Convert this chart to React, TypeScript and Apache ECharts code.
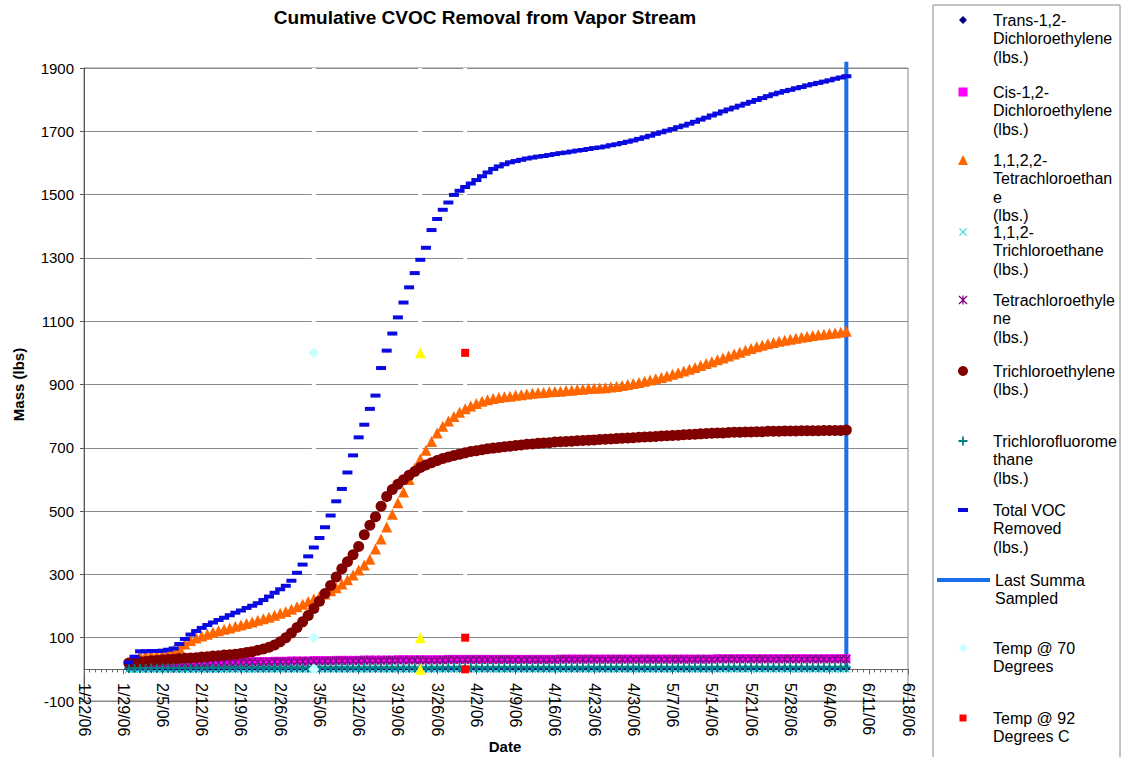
import React, { useEffect, useRef } from "react";
import * as echarts from "echarts";

// ---------- data ----------
const firstSampleDate = "2006-01-30"; // daily readings start
const axisStartDate = "2006-01-22";
const axisEndDate = "2006-06-18";

const totalVOC = [
  22, 40, 57, 57, 58, 58, 59, 62, 66, 80,
  96, 110, 121, 131, 140, 148, 156, 163, 171, 179,
  186, 194, 201, 209, 219, 230, 242, 253, 264, 280,
  305, 331, 357, 385, 415, 449, 486, 531, 570, 622,
  676, 733, 773, 823, 865, 952, 1007, 1061, 1112, 1159,
  1207, 1252, 1294, 1332, 1388, 1423, 1452, 1475, 1499, 1512,
  1524, 1535, 1546, 1558, 1570, 1581, 1589, 1596, 1602, 1606,
  1610, 1614, 1617, 1620, 1622, 1625, 1628, 1631, 1633, 1636,
  1639, 1641, 1644, 1647, 1649, 1652, 1656, 1659, 1663, 1667,
  1671, 1676, 1681, 1686, 1692, 1697, 1702, 1707, 1713, 1718,
  1724, 1730, 1737, 1743, 1750, 1756, 1763, 1769, 1775, 1781,
  1787, 1793, 1799, 1805, 1811, 1817, 1822, 1827, 1831, 1836,
  1840, 1845, 1849, 1853, 1857, 1861, 1866, 1870, 1874,
];

const tetrachloroethane = [
  null, null, 42, 44, 45, 46, 47, 52, 60, 68,
  80, 91, 99, 105, 111, 117, 122, 127, 131, 136,
  140, 145, 150, 155, 160, 165, 171, 177, 183, 190,
  198, 206, 214, 222, 230, 238, 248, 258, 270, 283,
  298, 314, 330, 348, 380, 412, 450, 490, 526, 560,
  600, 635, 665, 692, 720, 747, 768, 785, 799, 812,
  823, 832, 840, 847, 852, 856, 859, 861, 863, 866,
  868, 870, 872, 874, 875, 877, 878, 879, 881, 882,
  884, 885, 887, 888, 889, 890, 892, 894, 897, 900,
  903, 906, 910, 914, 918, 922, 927, 932, 937, 943,
  948, 954, 960, 966, 972, 978, 984, 990, 996, 1002,
  1008, 1014, 1019, 1024, 1029, 1033, 1037, 1040, 1043, 1046,
  1049, 1052, 1055, 1057, 1059, 1061, 1063, 1065, 1068,
];

const trichloroethylene = [
  20, 22, 24, 25, 27, 28, 30, 31, 32, 34,
  35, 36, 37, 39, 40, 42, 43, 45, 46, 48,
  50, 53, 56, 60, 64, 70, 77, 87, 100, 115,
  132, 150, 170, 192, 215, 240, 265, 292, 318, 340,
  362, 388, 425, 455, 482, 515, 546, 568, 585, 599,
  613, 625, 638, 646, 653, 660, 666, 671, 676, 680,
  684, 688, 691, 694, 697, 699, 701, 703, 705, 707,
  709, 711, 712, 714, 715, 716, 718, 719, 720, 721,
  722, 723, 724, 725, 726, 727, 728, 729, 730, 731,
  732, 733, 734, 735, 736, 737, 738, 739, 740, 741,
  742, 743, 744, 745, 746, 747, 747, 748, 749, 749,
  750, 750, 751, 751, 752, 752, 752, 753, 753, 753,
  754, 754, 754, 754, 755, 755, 755, 755, 756,
];

const tetrachloroethylene = [
  14, 15, 15, 16, 16, 17, 17, 18, 18, 19,
  19, 19, 20, 20, 20, 21, 21, 21, 22, 22,
  22, 22, 23, 23, 23, 23, 24, 24, 24, 25,
  25, 25, 25, 26, 26, 26, 26, 27, 27, 27,
  27, 27, 28, 28, 28, 28, 28, 28, 29, 29,
  29, 29, 29, 29, 29, 29, 29, 30, 30, 30,
  30, 30, 30, 30, 30, 30, 30, 30, 30, 30,
  30, 30, 30, 30, 30, 30, 30, 31, 31, 31,
  31, 31, 31, 31, 31, 31, 31, 31, 31, 31,
  31, 31, 31, 31, 31, 31, 31, 31, 31, 31,
  31, 31, 31, 31, 31, 32, 32, 32, 32, 32,
  32, 32, 32, 32, 32, 32, 32, 32, 32, 32,
  32, 32, 32, 32, 32, 32, 32, 32, 32,
];

const cisDCE = [
  17, 18, 18, 19, 19, 20, 20, 21, 21, 22,
  22, 22, 23, 23, 23, 24, 24, 24, 25, 25,
  25, 25, 26, 26, 26, 26, 27, 27, 27, 28,
  28, 28, 28, 29, 29, 29, 29, 30, 30, 30,
  30, 30, 31, 31, 31, 31, 31, 31, 32, 32,
  32, 32, 32, 32, 32, 32, 32, 33, 33, 33,
  33, 33, 33, 33, 33, 33, 33, 33, 33, 33,
  33, 33, 33, 33, 33, 33, 33, 34, 34, 34,
  34, 34, 34, 34, 34, 34, 34, 34, 34, 34,
  34, 34, 34, 34, 34, 34, 34, 34, 34, 34,
  34, 34, 34, 34, 34, 35, 35, 35, 35, 35,
  35, 35, 35, 35, 35, 35, 35, 35, 35, 35,
  35, 35, 35, 35, 35, 35, 35, 35, 35,
];

const transDCE = [
  1, 1, 1, 1, 1, 1, 1, 1, 1, 1,
  1, 1, 1, 1, 1, 1, 1, 2, 2, 2,
  2, 2, 2, 2, 2, 2, 2, 2, 2, 2,
  2, 2, 2, 2, 2, 2, 2, 2, 2, 2,
  2, 2, 2, 2, 2, 2, 2, 2, 2, 2,
  2, 2, 2, 2, 2, 2, 2, 2, 2, 2,
  2, 2, 2, 2, 2, 2, 2, 2, 2, 2,
  2, 2, 2, 2, 2, 2, 2, 2, 2, 2,
  2, 2, 2, 2, 2, 2, 2, 2, 2, 2,
  2, 2, 2, 2, 2, 2, 2, 2, 2, 2,
  2, 2, 2, 2, 2, 3, 3, 3, 3, 3,
  3, 3, 3, 3, 3, 3, 3, 3, 3, 3,
  3, 3, 3, 3, 3, 3, 3, 3, 3,
];

const trichloroethane = [
  0, 0, 0, 0, 0, 0, 0, 0, 0, 0,
  0, 0, 0, 0, 0, 0, 0, 0, 0, 0,
  0, 0, 0, 0, 0, 1, 1, 1, 1, 1,
  1, 1, 1, 1, 1, 1, 1, 1, 1, 1,
  1, 1, 1, 1, 1, 1, 1, 1, 1, 1,
  1, 1, 1, 1, 1, 1, 1, 1, 1, 1,
  1, 1, 1, 1, 1, 1, 1, 1, 1, 1,
  1, 1, 1, 1, 1, 1, 1, 1, 1, 1,
  1, 1, 1, 1, 1, 1, 1, 1, 1, 1,
  1, 1, 1, 1, 1, 1, 1, 1, 1, 1,
  1, 1, 1, 1, 1, 1, 1, 1, 1, 1,
  1, 1, 1, 1, 1, 1, 1, 1, 1, 1,
  1, 1, 1, 1, 1, 1, 1, 1, 1,
];

const trichlorofluoromethane = [
  3, 3, 3, 3, 4, 4, 4, 4, 4, 4,
  4, 4, 4, 5, 5, 5, 5, 5, 5, 5,
  5, 5, 5, 5, 5, 5, 5, 5, 5, 5,
  5, 5, 5, 5, 5, 5, 5, 5, 5, 5,
  5, 5, 5, 5, 5, 5, 5, 5, 5, 5,
  5, 5, 5, 5, 5, 5, 6, 6, 6, 6,
  6, 6, 6, 6, 6, 6, 6, 6, 6, 6,
  6, 6, 6, 6, 6, 6, 6, 6, 6, 6,
  6, 6, 6, 6, 6, 6, 6, 6, 6, 6,
  6, 6, 6, 6, 6, 6, 6, 6, 6, 6,
  6, 6, 6, 6, 6, 6, 6, 6, 6, 6,
  6, 6, 6, 6, 6, 6, 6, 6, 6, 6,
  6, 6, 6, 6, 6, 6, 6, 6, 6,
];

const lastSummaDate = "2006-06-07";
const lastSummaValues = [0, 1920];

const temp70Date = "2006-03-04";
const temp70Values = [0, 100, 1000];
const tempYellowDate = "2006-03-23";
const tempYellowValues = [0, 100, 1000];
const temp92Date = "2006-03-31";
const temp92Values = [0, 100, 1000];

const yMin = -100;
const yMax = 1900;
const yStep = 200;

// ---------- names ----------
const N_TRANS = "Trans-1,2-Dichloroethylene (lbs.)";
const N_CIS = "Cis-1,2-Dichloroethylene (lbs.)";
const N_PCA = "1,1,2,2-Tetrachloroethane (lbs.)";
const N_TCA = "1,1,2-Trichloroethane (lbs.)";
const N_PCE = "Tetrachloroethylene (lbs.)";
const N_TCE = "Trichloroethylene (lbs.)";
const N_CFC = "Trichlorofluoromethane (lbs.)";
const N_TOT = "Total VOC Removed (lbs.)";
const N_LAST = "Last Summa Sampled";
const N_T70 = "Temp @ 70 Degrees";
const N_T92 = "Temp @ 92 Degrees C";
const N_TY = "Temp (yellow)";

const legendLines: Record<string, string[]> = {
  [N_TRANS]: ["Trans-1,2-", "Dichloroethylene", "(lbs.)"],
  [N_CIS]: ["Cis-1,2-", "Dichloroethylene", "(lbs.)"],
  [N_PCA]: ["1,1,2,2-", "Tetrachloroethan", "e", "(lbs.)"],
  [N_TCA]: ["1,1,2-", "Trichloroethane", "(lbs.)"],
  [N_PCE]: ["Tetrachloroethyle", "ne", "(lbs.)"],
  [N_TCE]: ["Trichloroethylene", "(lbs.)"],
  [N_CFC]: ["Trichlorofluorome", "thane", "(lbs.)"],
  [N_TOT]: ["Total VOC", "Removed", "(lbs.)"],
  [N_LAST]: ["Last Summa", "Sampled"],
  [N_T70]: ["Temp @ 70", "Degrees"],
  [N_T92]: ["Temp @ 92", "Degrees C"],
};

const DAY = 86400000;
const toMs = (s: string) => Date.parse(s + "T00:00:00Z");

const ICON_X = "path://M1,0L5,4L9,0L10,1L6,5L10,9L9,10L5,6L1,10L0,9L4,5L0,1Z";
const ICON_STAR = "path://M1,0L5,4L9,0L10,1L6,5L10,9L9,10L5,6L1,10L0,9L4,5L0,1Z M4.3,0L5.7,0L5.7,10L4.3,10Z";
const ICON_PLUS = "path://M4,0L6,0L6,4L10,4L10,6L6,6L6,10L4,10L4,6L0,6L0,4L4,4Z";
const ICON_DASH = "path://M0,0L10,0L10,4L0,4Z";

const FONT = "'Liberation Sans', Arial, Helvetica, sans-serif";

export default function App() {
  const ref = useRef<HTMLDivElement>(null);

  useEffect(() => {
    document.body.style.margin = "0";
    if (!ref.current) return;
    const chart = echarts.init(ref.current, undefined, { renderer: "svg" });

    const t0 = toMs(firstSampleDate);
    const days = totalVOC.map((_, i) => t0 + i * DAY);
    const pts = (arr: (number | null)[]) =>
      arr.map((v, i) => [days[i], v]).filter((p) => p[1] !== null);

    const xLast = toMs(lastSummaDate);
    const x70 = toMs(temp70Date);
    const xY = toMs(tempYellowDate);
    const x92 = toMs(temp92Date);

    const scatter = (name: string, data: any[], symbol: string, size: any, color: string) => ({
      type: "scatter",
      name,
      data,
      symbol,
      symbolSize: size,
      itemStyle: { color, opacity: 1 },
      emphasis: { disabled: true },
      z: 2,
    });

    const series: any[] = [
      scatter(N_TRANS, pts(transDCE), "diamond", 8, "#000080"),
      scatter(N_CIS, pts(cisDCE), "rect", 8, "#ff00ff"),
      scatter(N_PCA, pts(tetrachloroethane), "triangle", 11, "#ff6600"),
      scatter(N_TCA, pts(trichloroethane), ICON_X, 8, "#33dddd"),
      scatter(N_PCE, pts(tetrachloroethylene), ICON_STAR, 9, "#800080"),
      scatter(N_TCE, pts(trichloroethylene), "circle", 11, "#800000"),
      scatter(N_CFC, pts(trichlorofluoromethane), ICON_PLUS, 9, "#008080"),
      scatter(N_TOT, pts(totalVOC), "rect", [10, 4], "#0a0ae0"),
      {
        type: "line",
        name: N_LAST,
        data: lastSummaValues.map((v) => [xLast, v]),
        symbol: "none",
        clip: false,
        lineStyle: { color: "#1a6ee8", width: 4 },
        itemStyle: { color: "#1a6ee8" },
        z: 2,
      },
      scatter(N_T70, temp70Values.map((v) => [x70, v]), "diamond", 11, "#c8ffff"),
      scatter(N_TY, tempYellowValues.map((v) => [xY, v]), "triangle", 11, "#ffff00"),
      scatter(N_T92, temp92Values.map((v) => [x92, v]), "rect", 8, "#ff0000"),
      {
        type: "line",
        name: "gaps",
        silent: true,
        symbol: "none",
        data: [
          [x70, 0], [x70, yMax], [x70, "-"],
          [xY, 0], [xY, yMax], [xY, "-"],
          [x92, 0], [x92, yMax],
        ],
        lineStyle: { color: "#ffffff", width: 4 },
        z: 1,
      },
    ];

    // legend layout (first-line centre y of each entry, icon centre x)
    const legendLayout: { name: string; y: number; cx: number; icon: string; w: number; h: number }[] = [
      { name: N_TRANS, y: 20, cx: 963, icon: "diamond", w: 8, h: 8 },
      { name: N_CIS, y: 92, cx: 963, icon: "rect", w: 9, h: 9 },
      { name: N_PCA, y: 160, cx: 963, icon: "triangle", w: 10, h: 10 },
      { name: N_TCA, y: 232, cx: 963, icon: ICON_X, w: 8, h: 8 },
      { name: N_PCE, y: 300, cx: 963, icon: ICON_STAR, w: 9, h: 9 },
      { name: N_TCE, y: 371, cx: 963, icon: "circle", w: 10, h: 10 },
      { name: N_CFC, y: 441, cx: 963, icon: ICON_PLUS, w: 9, h: 9 },
      { name: N_TOT, y: 510, cx: 963, icon: ICON_DASH, w: 10, h: 4 },
      { name: N_LAST, y: 580, cx: 963.5, icon: "path://M0,0L53,0L53,4L0,4Z", w: 53, h: 4 },
      { name: N_T70, y: 648, cx: 963, icon: "diamond", w: 9, h: 9 },
      { name: N_T92, y: 718, cx: 963, icon: "rect", w: 7, h: 7 },
    ];
    const LH = 18.5;
    const textLeft = 993;
    const legends = legendLayout.map((it) => {
      const lines = legendLines[it.name];
      const n = lines.length;
      const blockH = (2 * n - 1) * LH;
      const left = it.cx - it.w / 2;
      const padL = Math.max(0, textLeft - (left + it.w + 5));
      return {
        data: [{ name: it.name, icon: it.icon }],
        orient: "vertical",
        left,
        top: it.y - blockH / 2,
        padding: 0,
        itemWidth: it.w,
        itemHeight: it.h,
        selectedMode: false,
        formatter: () => "\n".repeat(n - 1) + lines.join("\n"),
        textStyle: {
          fontSize: 16,
          lineHeight: LH,
          color: "#000",
          fontFamily: FONT,
          padding: [0, 0, 0, padL],
        },
      };
    });

    const fmtDate = (v: number) => {
      const d = new Date(v);
      return `${d.getUTCMonth() + 1}/${d.getUTCDate()}/${String(d.getUTCFullYear()).slice(2)}`;
    };

    chart.setOption({
      animation: false,
      backgroundColor: "#ffffff",
      textStyle: { fontFamily: FONT },
      title: {
        text: "Cumulative CVOC Removal from Vapor Stream",
        left: 485,
        top: 8,
        padding: 0,
        textAlign: "center",
        textStyle: { fontSize: 19, fontWeight: "bold", color: "#000", fontFamily: FONT },
      },
      grid: {
        left: 84,
        top: 68,
        width: 824,
        height: 633,
        show: true,
        borderColor: "#888",
        borderWidth: 1,
        backgroundColor: "transparent",
        outerBoundsMode: "none",
        containLabel: false,
      },
      xAxis: {
        type: "value",
        min: toMs(axisStartDate),
        max: toMs(axisEndDate),
        interval: 7 * DAY,
        axisLine: { onZero: true, lineStyle: { color: "#666", width: 1 } },
        axisTick: { show: true, length: 5, lineStyle: { color: "#666" } },
        minorTick: { show: true, splitNumber: 7, length: 3, lineStyle: { color: "#666" } },
        splitLine: { show: false },
        axisLabel: {
          rotate: -90,
          fontSize: 16,
          color: "#000",
          margin: -18,
          formatter: fmtDate,
        },
      },
      yAxis: {
        type: "value",
        min: yMin,
        max: yMax,
        interval: yStep,
        name: "Mass (lbs)",
        nameLocation: "middle",
        nameGap: 58,
        nameTextStyle: { fontSize: 15, fontWeight: "bold", color: "#000" },
        axisLine: { show: true, lineStyle: { color: "#555" } },
        axisTick: { show: true, length: 4, lineStyle: { color: "#555" } },
        splitLine: { show: true, lineStyle: { color: "#8a8a8a", width: 1 } },
        axisLabel: { fontSize: 15, color: "#000", margin: 10, formatter: (v: number) => String(v) },
      },
      legend: legends,
      graphic: [
        {
          type: "rect",
          shape: { x: 933, y: 5, width: 187, height: 800 },
          style: { fill: "none", stroke: "#888", lineWidth: 1 },
          silent: true,
          z: -1,
        },
        {
          type: "text",
          x: 505,
          y: 746,
          silent: true,
          style: {
            text: "Date",
            fontSize: 15,
            fontWeight: "bold",
            fontFamily: FONT,
            fill: "#000",
            align: "center",
            verticalAlign: "middle",
          },
        },
      ],
      series,
    });

    return () => chart.dispose();
  }, []);

  return <div ref={ref} style={{ width: 1124, height: 757 }} />;
}
